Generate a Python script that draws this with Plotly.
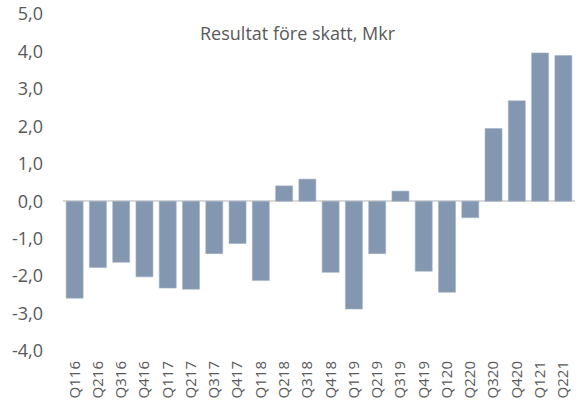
import plotly.graph_objects as go

quarters = ["Q116", "Q216", "Q316", "Q416", "Q117", "Q217", "Q317", "Q417", "Q118", "Q218", "Q318",
            "Q418", "Q119", "Q219", "Q319", "Q419", "Q120", "Q220", "Q320", "Q420", "Q121", "Q221"]
result = [-2.59, -1.77, -1.63, -2.02, -2.32, -2.35, -1.40, -1.13, -2.12, 0.41, 0.59,
          -1.90, -2.88, -1.40, 0.27, -1.87, -2.43, -0.44, 1.94, 2.68, 3.96, 3.89]
y_ticks = [-4, -3, -2, -1, 0, 1, 2, 3, 4, 5]
y_tick_labels = [f"{v:.1f}".replace(".", ",") for v in y_ticks]
title_text = "Resultat före skatt, Mkr"

fig = go.Figure(go.Bar(
    x=quarters, y=result,
    marker=dict(color="#8497b0", line=dict(color="#a3b1c6", width=0.6)),
))

fig.update_layout(
    width=578, height=405,
    margin=dict(l=63, r=3, t=14, b=54),
    paper_bgcolor="white", plot_bgcolor="white",
    bargap=0.27,
    showlegend=False,
    font=dict(family="Open Sans, Liberation Sans, sans-serif", color="#595959"),
    annotations=[dict(text=title_text, xref="paper", yref="paper", x=0.459, y=0.945,
                      xanchor="center", yanchor="middle",
                      showarrow=False, font=dict(size=18, color="#595959"))],
)
fig.update_yaxes(range=[-4, 5], tickvals=y_ticks, ticktext=y_tick_labels, showgrid=False,
                 zeroline=True, zerolinecolor="#d9d9d9", zerolinewidth=1.5,
                 tickfont=dict(size=18, color="#595959"), ticklabelstandoff=19, ticks="",
                 ticklabeloverflow="allow", automargin=False)
fig.update_xaxes(tickangle=-90, showgrid=False, showline=False, ticks="",
                 tickfont=dict(size=15, color="#595959"), ticklabelstandoff=6,
                 automargin=False)

fig.write_html("out.html", config={"displayModeBar": False},
               post_script="document.body.style.margin='0';")
